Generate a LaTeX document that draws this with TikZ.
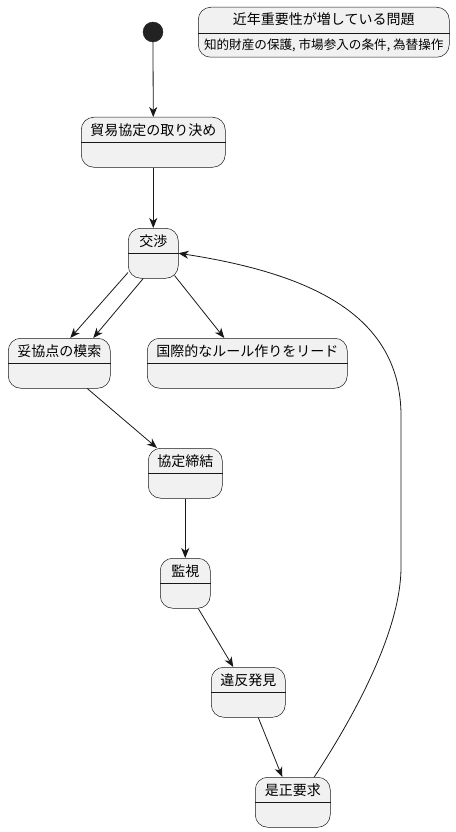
\documentclass[tikz,border=0pt]{standalone}
\usepackage{fontspec}
\setmainfont{Noto Sans CJK JP}
\usetikzlibrary{arrows.meta,calc}
\definecolor{stfill}{HTML}{F1F1F1}
\definecolor{stline}{HTML}{181818}
\definecolor{initfill}{HTML}{222222}
\tikzset{
  stbox/.style={draw=stline, fill=stfill, line width=0.5pt, rounded corners=12.5pt, inner sep=0pt, anchor=north west},
  sttitle/.style={font=\fontsize{14}{16}\selectfont, inner sep=0pt, anchor=center},
  notetext/.style={font=\fontsize{12.6}{14}\selectfont, inner sep=0pt, anchor=center},
  divline/.style={draw=stline, line width=0.5pt},
  trans/.style={draw=stline, line width=0.8pt, -{Stealth[length=10pt,width=8pt,inset=3pt]}},
  initstate/.style={circle, fill=initfill, draw=initfill, minimum size=20pt, inner sep=0pt},
}
\newcommand\mkstate[5]{%
  \node[stbox, minimum width=#4pt, minimum height=50pt] (#1) at (#2,#3) {};
  \node[sttitle] (#1t) at ($(#1.north)+(0,13)$) {#5};
  \draw[divline] ($(#1.north west)+(0,25)$) -- ($(#1.north east)+(0,25)$);
}
\begin{document}
\begin{tikzpicture}[x=1pt,y=-1pt]
\useasboundingbox (0,0) rectangle (455,832);

\node[initstate] (init) at (153,32) {};

\mkstate{b1}{81}{117}{144}{貿易協定の取り決め}
\mkstate{b2}{128}{228}{50}{交渉}
\mkstate{b3}{8}{338}{102}{妥協点の模索}
\mkstate{b4}{147}{338}{200}{国際的なルール作りをリード}
\mkstate{b5}{148}{448}{74}{協定締結}
\mkstate{b6}{160}{558}{50}{監視}
\mkstate{b7}{211}{667}{74}{違反発見}
\mkstate{b8}{255}{777}{75}{是正要求}

% note-like state
\node[stbox, minimum width=251pt, minimum height=50pt] (nt) at (198,7) {};
\node[sttitle] (ntt) at ($(nt.north)+(0,12.5)$) {近年重要性が増している問題};
\draw[divline] ($(nt.north west)+(0,26)$) -- ($(nt.north east)+(0,26)$);
\node[notetext] (ntb) at ($(nt.north)+(0,38.5)$) {知的財産の保護, 市場参入の条件, 為替操作};

% transitions
\draw[trans] (init.south) -- (b1.north);
\draw[trans] (b1.south) -- (b2.north);
\draw[trans] ($(b2.south west)+(0,-6)$) -- ($(b3.north)+(11,0)$);
\draw[trans] ($(b2.south)+(-10,0)$) -- ($(b3.north)+(34,0)$);
\draw[trans] ($(b2.south east)+(-4,-3)$) -- ($(b4.north)+(-23,0)$);
\draw[trans] ($(b3.south)+(28,0)$) -- ($(b5.north west)+(9,0)$);
\draw[trans] (b5.south) -- (b6.north);
\draw[trans] ($(b6.south)+(13,0)$) -- ($(b7.north)+(-15,0)$);
\draw[trans] ($(b7.south)+(10,0)$) -- ($(b8.north)+(-10.5,0)$);
\coordinate (r1) at (401,567);
\coordinate (r2) at (401,420);
\draw[trans] ($(b8.north)+(21.5,0)$) .. controls (355,715) and (401,630) .. (r1)
  -- (r2) .. controls (403,320) and (320,275) .. (b2.east);
\end{tikzpicture}
\end{document}
